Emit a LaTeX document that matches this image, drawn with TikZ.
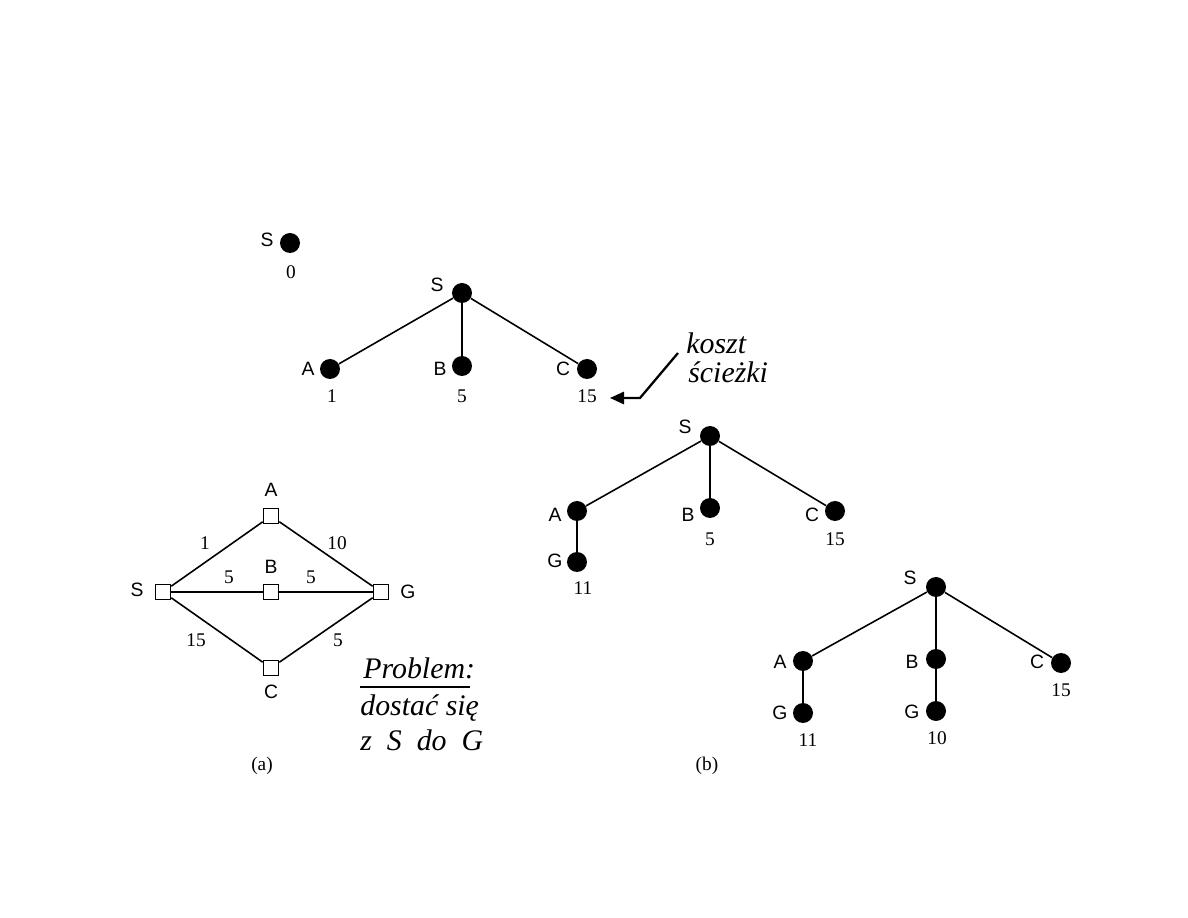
\documentclass[tikz,border=0pt]{standalone}
\usepackage{fontspec}
\setmainfont{Liberation Serif}
\newfontfamily\lblfont{Liberation Sans}
\newfontfamily\handfont{Liberation Serif}
\usetikzlibrary{arrows.meta}
\begin{document}
\begin{tikzpicture}[x=0.02cm,y=-0.02cm,
  dot/.style={circle,fill=black,inner sep=0pt,minimum size=0.4cm},
  sq/.style={rectangle,draw=black,fill=white,line width=0.9pt,inner sep=0pt,minimum size=0.3cm},
  lbl/.style={font=\lblfont\fontsize{11}{12}\selectfont,inner sep=1pt},
  num/.style={font=\fontsize{11}{12}\selectfont,inner sep=1pt},
  edge/.style={line width=0.9pt},
  hand/.style={font=\handfont\itshape\fontsize{17}{19}\selectfont,inner sep=0pt}]
\useasboundingbox (0,0) rectangle (1188,918);

% single S
\node[dot] (s0) at (290,243) {};
\node[lbl] (s0l) at (267,240) {S};
\node[num] (s0c) at (291,272) {0};

% tree 1
\node[dot] (t1s) at (462,293) {};
\node[dot] (t1a) at (330,369) {};
\node[dot] (t1b) at (462,366) {};
\node[dot] (t1c) at (587,369) {};
\draw[edge] (t1s) -- (t1a);
\draw[edge] (t1s) -- (t1b);
\draw[edge] (t1s) -- (t1c);
\node[lbl] at (437,285) {S};
\node[lbl] at (308,369) {A};
\node[lbl] at (440,369) {B};
\node[lbl] at (563,369) {C};
\node[num] at (332,396) {1};
\node[num] at (462,396) {5};
\node[num] (t1cc) at (587,396) {15};

% handwritten arrow
\coordinate (h1) at (678,353);
\coordinate (h2) at (640,398);
\coordinate (h3) at (610,398);
\draw[line width=1.3pt,-{Triangle[length=8pt,width=7pt]}] (h1) -- (h2) -- (h3);
\node[hand,anchor=west] at (686,343) {koszt};
\node[hand,anchor=west] at (688,372) {ścieżki};

% tree 2
\node[dot] (t2s) at (710,436) {};
\node[dot] (t2a) at (577,511) {};
\node[dot] (t2b) at (710,508) {};
\node[dot] (t2c) at (835,511) {};
\node[dot] (t2g) at (577,562) {};
\draw[edge] (t2s) -- (t2a);
\draw[edge] (t2s) -- (t2b);
\draw[edge] (t2s) -- (t2c);
\draw[edge] (t2a) -- (t2g);
\node[lbl] at (685,427) {S};
\node[lbl] at (555,515) {A};
\node[lbl] at (688,515) {B};
\node[lbl] at (812,515) {C};
\node[lbl] at (555,561) {G};
\node[num] at (710,539) {5};
\node[num] at (835,539) {15};
\node[num] at (583,588) {11};

% tree 3
\node[dot] (t3s) at (936,587) {};
\node[dot] (t3a) at (803,661) {};
\node[dot] (t3b) at (936,659) {};
\node[dot] (t3c) at (1061,663) {};
\node[dot] (t3ga) at (803,713) {};
\node[dot] (t3gb) at (936,711) {};
\draw[edge] (t3s) -- (t3a);
\draw[edge] (t3s) -- (t3b);
\draw[edge] (t3s) -- (t3c);
\draw[edge] (t3a) -- (t3ga);
\draw[edge] (t3b) -- (t3gb);
\node[lbl] at (910,578) {S};
\node[lbl] at (780,662) {A};
\node[lbl] at (912,662) {B};
\node[lbl] at (1037,662) {C};
\node[lbl] at (780,713) {G};
\node[lbl] at (912,712) {G};
\node[num] at (1061,690) {15};
\node[num] at (808,740) {11};
\node[num] at (937,738) {10};

% graph (a)
\node[sq] (gs) at (163,592) {};
\node[sq] (ga) at (271,516) {};
\node[sq] (gb) at (271,592) {};
\node[sq] (gg) at (381,592) {};
\node[sq] (gc) at (271,668) {};
\draw[edge] (gs) -- (ga);
\draw[edge] (ga) -- (gg);
\draw[edge] (gs) -- (gb);
\draw[edge] (gb) -- (gg);
\draw[edge] (gs) -- (gc);
\draw[edge] (gc) -- (gg);
\node[lbl] at (137,590) {S};
\node[lbl] at (271,490) {A};
\node[lbl] at (271,567) {B};
\node[lbl] at (408,592) {G};
\node[lbl] at (271,692) {C};
\node[num] at (205,543) {1};
\node[num] at (337,543) {10};
\node[num] at (229,577) {5};
\node[num] at (311,577) {5};
\node[num] at (196,640) {15};
\node[num] at (338,640) {5};

% problem text
\node[hand,anchor=west] (p1) at (363,668) {Problem:};
\coordinate (u1) at (360,687);
\coordinate (u2) at (470,687);
\draw[line width=1pt] (u1) -- (u2);
\node[hand,anchor=west] at (360,708) {dostać się};
\node[hand,anchor=west] at (360,740) {z\ \ S\ \ do\ \ G};

% captions
\node[num] at (262,766) {(a)};
\node[num] at (707,766) {(b)};
\end{tikzpicture}
\end{document}
